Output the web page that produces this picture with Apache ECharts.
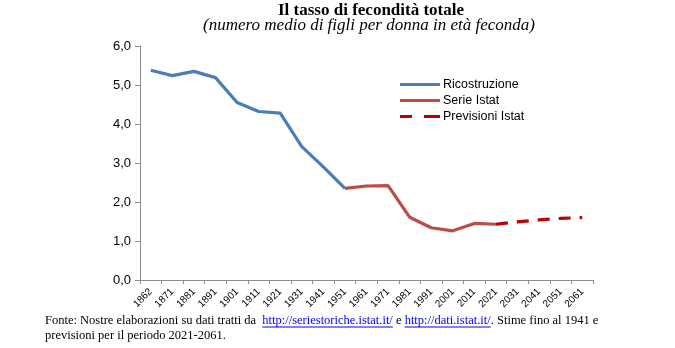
<!DOCTYPE html>
<html><head><meta charset="utf-8">
<script src="https://cdn.jsdelivr.net/npm/echarts@6/dist/echarts.min.js"></script>
<style>html,body{margin:0;padding:0;background:#fff}#c{width:675px;height:348px}</style>
</head><body><div id="c"></div>
<script>
var years = ['1862','1871','1881','1891','1901','1911','1921','1931','1941','1951','1961','1971','1981','1991','2001','2011','2021','2031','2041','2051','2061'];
var ricostruzione = [5.38,5.24,5.35,5.19,4.55,4.32,4.28,3.42,2.90,2.35,'-','-','-','-','-','-','-','-','-','-','-'];
var serieIstat = ['-','-','-','-','-','-','-','-','-',2.35,2.41,2.42,1.61,1.34,1.26,1.45,1.43,'-','-','-','-'];
var previsioni = ['-','-','-','-','-','-','-','-','-','-','-','-','-','-','-','-',1.43,1.49,1.54,1.58,1.60];
var yTicks = [0,1,2,3,4,5,6];

var chart = echarts.init(document.getElementById('c'));
var serif = '"Liberation Serif","Times New Roman",serif';
var sans = '"Liberation Sans",Arial,sans-serif';
var ctx = document.createElement('canvas').getContext('2d');
ctx.font = '12.5px ' + serif;
function w(s){return ctx.measureText(s).width;}
var fx = 45, fy1 = 314;
var p1 = 'Fonte: Nostre elaborazioni su dati tratti da  ';
var l1 = 'http://seriestoriche.istat.it/';
var p2 = ' e ';
var l2 = 'http://dati.istat.it/';
var p3 = '. Stime fino al 1941 e';
var x1 = fx + w(p1), x2 = x1 + w(l1) + w(p2), x3 = x2 + w(l2);
var uy = fy1 + 13;

chart.setOption({
  animation: false,
  backgroundColor: '#fff',
  title: [
    {text: 'Il tasso di fecondità totale', left: 366, textAlign: 'center', top: -3,
     textStyle: {fontFamily: serif, fontWeight: 'bold', fontSize: 17, color: '#000'}},
    {text: '(numero medio di figli per donna in età feconda)', left: 364, textAlign: 'center', top: 12,
     textStyle: {fontFamily: serif, fontStyle: 'italic', fontWeight: 'normal', fontSize: 17, color: '#000'}}
  ],
  legend: {
    orient: 'vertical', left: 395, top: 73, itemWidth: 40, itemHeight: 3, itemGap: 3,
    icon: 'rect',
    textStyle: {fontFamily: sans, fontSize: 12.5, color: '#000', padding: [0,0,0,-2]},
    data: [
      {name: 'Ricostruzione', icon: 'rect'},
      {name: 'Serie Istat', icon: 'rect'},
      {name: 'Previsioni Istat', icon: 'path://M0,0H12V3H0Z M24,0H40V3H24Z'}
    ]
  },
  grid: {left: 140, right: 82, top: 46, bottom: 68},
  xAxis: {
    type: 'category', data: years, boundaryGap: true,
    axisLine: {lineStyle: {color: '#8c8c8c', width: 1}},
    axisTick: {show: true, alignWithLabel: false, length: 4, lineStyle: {color: '#8c8c8c'}},
    axisLabel: {rotate: 45, interval: 0, fontFamily: sans, fontSize: 10, color: '#000', margin: 10}
  },
  yAxis: {
    type: 'value', min: 0, max: 6, interval: 1,
    axisLine: {show: true, lineStyle: {color: '#8c8c8c', width: 1}},
    axisTick: {show: true, length: 5, lineStyle: {color: '#8c8c8c'}},
    splitLine: {show: false},
    axisLabel: {fontFamily: sans, fontSize: 13, color: '#000', margin: 9,
      formatter: function(v){return v.toFixed(1).replace('.', ',');}}
  },
  series: [
    {name: 'Ricostruzione', type: 'line', data: ricostruzione, symbol: 'none', color: '#4a7ebb',
     lineStyle: {width: 3.2, color: '#4a7ebb'}},
    {name: 'Serie Istat', type: 'line', data: serieIstat, symbol: 'none', color: '#be4b48',
     lineStyle: {width: 3.2, color: '#be4b48'}},
    {name: 'Previsioni Istat', type: 'line', data: previsioni, symbol: 'none', color: '#c00000',
     lineStyle: {width: 3.2, color: '#c00000', type: [12, 9]}}
  ],
  graphic: [
    {type: 'text', left: fx, top: fy1, style: {
      text: '{a|' + p1 + '}{l|' + l1 + '}{a|' + p2 + '}{l|' + l2 + '}{a|' + p3 + '}',
      rich: {
        a: {fontFamily: serif, fontSize: 12.5, fill: '#000'},
        l: {fontFamily: serif, fontSize: 12.5, fill: '#0000ff'}
      }}},
    {type: 'text', left: fx, top: fy1 + 15, style: {
      text: 'previsioni per il periodo 2021-2061.', fontFamily: serif, fontSize: 12.5, fill: '#000'}},
    {type: 'line', shape: {x1: x1, y1: uy, x2: x1 + w(l1), y2: uy}, style: {stroke: '#0000ff', lineWidth: 1}},
    {type: 'line', shape: {x1: x2, y1: uy, x2: x3, y2: uy}, style: {stroke: '#0000ff', lineWidth: 1}}
  ]
});
</script></body></html>
